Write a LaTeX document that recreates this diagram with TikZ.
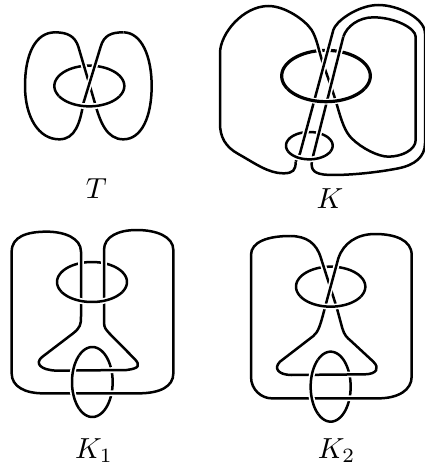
\documentclass[tikz,border=0pt]{standalone}
\tikzset{
  knot/.style={line width=2.5pt,line join=round,draw=black},
  over/.style={preaction={draw=white,line width=5.8pt}},
  thick knot/.style={line width=3.2pt,line join=round,draw=black},
  zoomed/.style={x=.33333pt,y=-.33333pt},
  lab/.style={scale=2.9,inner sep=0pt}
}
% centre x, centre y, x radius, y radius, from angle, to angle
\newcommand\earc[6]{plot[domain=#5:#6,samples=70] ({#1+#3*cos(\x)},{#2+#4*sin(\x)})}
\begin{document}
\begin{tikzpicture}
\path[use as bounding box,fill=white] (0,0) rectangle (425pt,-468pt);
% T
\begin{scope}[zoomed]
\draw[knot] \earc{268}{258}{105}{61}{0}{360};
\draw[knot,over] (165,97) .. controls (205,97) and (225,110) .. (235,140) -- (285,310) .. controls (300,365) and (320,418) .. (370,418) .. controls (425,418) and (455,350) .. (455,258) .. controls (455,170) and (425,97) .. (370,97);
\draw[knot,over] (370,97) .. controls (335,97) and (312,105) .. (302,140) -- (250,310) .. controls (240,370) and (225,418) .. (178,418) .. controls (115,418) and (75,350) .. (75,258) .. controls (75,165) and (105,97) .. (165,97);
\draw[knot,over] \earc{268}{258}{105}{61}{30}{150};
\node[lab] (T) at (289,566) {$T$};
\end{scope}
% K
\begin{scope}[zoomed,xshift=205pt]
\draw[thick knot] \earc{363}{228}{133}{77}{0}{360};
\draw[knot] \earc{313}{437}{70}{41}{0}{360};
\draw[knot,over] (272,485) .. controls (272,510) and (265,520) .. (235,520) .. controls (190,520) and (150,490) .. (100,462) .. controls (60,440) and (45,410) .. (45,370) -- (45,160) .. controls (45,100) and (115,18) .. (190,18) .. controls (240,18) and (300,60) .. (320,90) .. controls (335,115) and (340,145) .. (350,178) .. controls (360,210) and (378,255) .. (395,312) .. controls (410,365) and (420,395) .. (440,415) .. controls (470,445) and (520,470) .. (550,470) .. controls (590,470) and (632,450) .. (632,420) -- (632,110) .. controls (632,85) and (570,52) .. (505,52) .. controls (460,52) and (425,80) .. (415,110);
\draw[knot,over] (415,110) -- (325,465) -- (320,490) .. controls (318,518) and (340,525) .. (385,525) .. controls (450,525) and (530,515) .. (580,505) .. controls (630,495) and (660,470) .. (660,430) -- (660,100) .. controls (660,55) and (580,15) .. (520,15) .. controls (470,15) and (410,50) .. (390,80) -- (385,90) -- (285,460) -- (272,485);
\draw[thick knot,over] \earc{363}{228}{133}{77}{30}{150};
\draw[knot,over] \earc{313}{437}{70}{41}{25}{155};
\node[lab] (K) at (375,595) {$K$};
\end{scope}
% K1
\begin{scope}[zoomed,yshift=-220pt]
\draw[knot] \earc{276}{186}{105}{60}{0}{360};
\draw[knot] \earc{277}{486}{61}{105}{0}{360};
\draw[knot,over] (243,95) .. controls (243,55) and (195,35) .. (140,35) .. controls (80,35) and (35,50) .. (35,95) -- (35,460) .. controls (35,500) and (75,520) .. (130,520) -- (415,520) .. controls (480,520) and (520,500) .. (520,460) -- (520,90) .. controls (520,50) and (470,30) .. (410,30) .. controls (355,30) and (312,50) .. (312,90) -- (312,305) .. controls (312,325) and (318,328) .. (328,340) -- (405,418) .. controls (420,435) and (420,445) .. (380,450) -- (170,452) .. controls (120,450) and (105,430) .. (125,412) -- (222,338) .. controls (240,322) and (243,315) .. (243,290) -- cycle;
\draw[knot,over] \earc{276}{186}{105}{60}{30}{150};
\draw[knot,over] \earc{277}{486}{61}{105}{130}{230};
\node[lab] (K1) at (282,692) {$K_1$};
\end{scope}
% K2
\begin{scope}[zoomed,xshift=225pt,yshift=-220pt]
\draw[knot] \earc{317}{200}{104}{60}{0}{360};
\draw[knot] \earc{317}{500}{60}{105}{0}{360};
\draw[knot,over] (195,48) .. controls (245,48) and (275,70) .. (288,115) -- (335,262) -- (352,325) .. controls (358,345) and (365,352) .. (378,363) -- (445,425) .. controls (465,445) and (455,462) .. (420,463) -- (200,465) .. controls (160,465) and (145,445) .. (165,425) -- (265,348) .. controls (280,335) and (285,320) .. (300,262);
\draw[knot,over] (300,262) -- (340,115) .. controls (355,70) and (395,42) .. (450,42) .. controls (510,42) and (560,60) .. (560,105) -- (560,470) .. controls (560,510) and (520,535) .. (460,535) -- (140,535) .. controls (110,535) and (78,510) .. (78,470) -- (78,105) .. controls (78,65) and (130,48) .. (195,48);
\draw[knot,over] \earc{317}{200}{104}{60}{30}{150};
\draw[knot,over] \earc{317}{500}{60}{105}{130}{230};
\node[lab] (K2) at (335,692) {$K_2$};
\end{scope}
\end{tikzpicture}
\end{document}
